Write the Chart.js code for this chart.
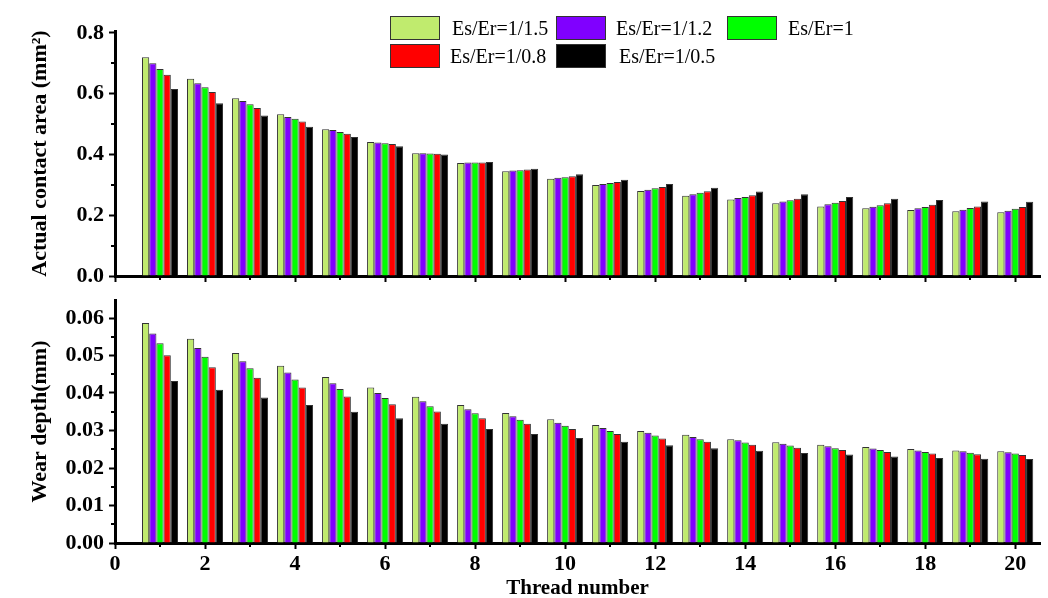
<html>

<head>
    <title>Thread wear</title>
    <script src="https://cdn.jsdelivr.net/npm/chart.js"></script>
    <style>
        body {
            margin: 0;
            background: #fff;
        }

        .wrap {
            position: relative;
            width: 1048px;
            height: 598px;
            overflow: hidden;
        }

        #areaChart {
            position: absolute;
            left: 0;
            top: 0;
        }

        #wearChart {
            position: absolute;
            left: 0;
            top: 290px;
        }
    </style>
</head>

<body>
    <div class="wrap">
        <canvas id="areaChart" width="1048" height="290"></canvas>
        <canvas id="wearChart" width="1048" height="308"></canvas>
    </div>
</body>
<script>
    const threads = [1, 2, 3, 4, 5, 6, 7, 8, 9, 10, 11, 12, 13, 14, 15, 16, 17, 18, 19, 20]
    const seriesNames = ['Es/Er=1/1.5', 'Es/Er=1/1.2', 'Es/Er=1', 'Es/Er=1/0.8', 'Es/Er=1/0.5']
    const seriesColors = ['#c0eb6e', '#8000ff', '#00ff00', '#ff0000', '#000000']

    // actual contact area (mm2)
    const area15 = [0.720, 0.649, 0.585, 0.532, 0.483, 0.441, 0.404, 0.372, 0.345, 0.320, 0.299, 0.280, 0.264, 0.252, 0.239, 0.229, 0.223, 0.217, 0.213, 0.210]
    const area12 = [0.700, 0.634, 0.576, 0.523, 0.480, 0.439, 0.404, 0.373, 0.347, 0.323, 0.303, 0.284, 0.269, 0.257, 0.245, 0.236, 0.228, 0.223, 0.218, 0.215]
    const area10 = [0.681, 0.621, 0.565, 0.517, 0.474, 0.437, 0.403, 0.373, 0.348, 0.325, 0.306, 0.289, 0.274, 0.260, 0.249, 0.241, 0.233, 0.227, 0.224, 0.221]
    const area08 = [0.662, 0.605, 0.553, 0.508, 0.468, 0.434, 0.402, 0.373, 0.350, 0.328, 0.309, 0.293, 0.279, 0.266, 0.254, 0.247, 0.239, 0.234, 0.229, 0.227]
    const area05 = [0.615, 0.568, 0.528, 0.491, 0.457, 0.427, 0.400, 0.375, 0.353, 0.335, 0.317, 0.303, 0.290, 0.278, 0.269, 0.260, 0.254, 0.250, 0.245, 0.244]

    // wear depth (mm)
    const wear15 = [0.0587, 0.0545, 0.0507, 0.0473, 0.0443, 0.0415, 0.0390, 0.0368, 0.0347, 0.0330, 0.0315, 0.0299, 0.0289, 0.0277, 0.0269, 0.0262, 0.0256, 0.0251, 0.0247, 0.0245]
    const wear12 = [0.0559, 0.0520, 0.0485, 0.0455, 0.0426, 0.0400, 0.0378, 0.0357, 0.0338, 0.0321, 0.0307, 0.0294, 0.0283, 0.0274, 0.0265, 0.0258, 0.0252, 0.0247, 0.0245, 0.0242]
    const wear10 = [0.0533, 0.0497, 0.0466, 0.0436, 0.0411, 0.0387, 0.0365, 0.0346, 0.0329, 0.0313, 0.0299, 0.0287, 0.0277, 0.0268, 0.0260, 0.0253, 0.0248, 0.0243, 0.0241, 0.0239]
    const wear08 = [0.0501, 0.0469, 0.0441, 0.0415, 0.0391, 0.0370, 0.0351, 0.0333, 0.0318, 0.0304, 0.0291, 0.0279, 0.0270, 0.0262, 0.0254, 0.0248, 0.0243, 0.0239, 0.0237, 0.0235]
    const wear05 = [0.0432, 0.0409, 0.0388, 0.0368, 0.0350, 0.0333, 0.0318, 0.0304, 0.0291, 0.0280, 0.0270, 0.0261, 0.0253, 0.0246, 0.0240, 0.0236, 0.0231, 0.0227, 0.0225, 0.0224]

    const serif = '"Liberation Serif", "Times New Roman", serif'
    const tickFont = { family: serif, size: 22, weight: 'bold' }

    const makeDatasets = (lists) => lists.map((values, i) => ({
        label: seriesNames[i],
        data: values.map((v, j) => ({ x: threads[j], y: v })),
        backgroundColor: seriesColors[i],
        borderColor: '#333',
        borderWidth: 1,
        barPercentage: 1.0,
        categoryPercentage: 0.8
    }))

    // every other tick is a minor one (shorter mark, no label)
    const isMinor = (scale, v) => Math.round(v / scale.options.ticks.stepSize) % 2 !== 0

    // legend in two rows, like the original figure
    const legendSpots = [
        { x: 390, y: 16, tx: 452 },
        { x: 556, y: 16, tx: 616 },
        { x: 727, y: 16, tx: 788 },
        { x: 390, y: 44, tx: 450 },
        { x: 556, y: 44, tx: 619 }
    ]

    const boxLegend = {
        id: 'boxLegend',
        afterDraw(chart) {
            const ctx = chart.ctx
            ctx.save()
            ctx.font = '20px ' + serif
            ctx.textBaseline = 'middle'
            chart.data.datasets.forEach((ds, i) => {
                const s = legendSpots[i]
                ctx.fillStyle = ds.backgroundColor
                ctx.fillRect(s.x, s.y, 50, 24)
                ctx.strokeStyle = '#333'
                ctx.lineWidth = 1
                ctx.strokeRect(s.x + 0.5, s.y + 0.5, 49, 23)
                ctx.fillStyle = '#000'
                ctx.fillText(ds.label, s.tx, s.y + 14)
            })
            ctx.restore()
        }
    }

    // short marks for the minor ticks
    const minorTicks = {
        id: 'minorTicks',
        afterDraw(chart) {
            const ctx = chart.ctx
            const area = chart.chartArea
            ctx.save()
            ctx.strokeStyle = '#000'
            ctx.lineWidth = 2
            const xs = chart.scales.x
            xs.ticks.forEach(t => {
                if (!isMinor(xs, t.value)) return
                const px = Math.round(xs.getPixelForValue(t.value))
                ctx.beginPath()
                ctx.moveTo(px, area.bottom)
                ctx.lineTo(px, area.bottom + 4)
                ctx.stroke()
            })
            const ys = chart.scales.y
            ys.ticks.forEach(t => {
                if (!isMinor(ys, t.value)) return
                const py = Math.round(ys.getPixelForValue(t.value))
                ctx.beginPath()
                ctx.moveTo(area.left, py)
                ctx.lineTo(area.left - 4, py)
                ctx.stroke()
            })
            ctx.restore()
        }
    }

    const majorColor = (c) => isMinor(c.scale, c.tick.value) ? 'rgba(0,0,0,0)' : '#000'

    const xScale = (showLabels, height) => ({
        type: 'linear',
        min: 0,
        max: 20.55,
        offset: false,
        grid: {
            offset: false,
            drawOnChartArea: false,
            drawTicks: true,
            tickLength: 6,
            tickWidth: 2,
            tickColor: majorColor
        },
        border: { display: true, color: '#000', width: 3 },
        ticks: {
            stepSize: 1,
            includeBounds: false,
            autoSkip: false,
            maxRotation: 0,
            padding: 2,
            color: '#000',
            font: tickFont,
            callback: (v) => (showLabels && Math.round(v) % 2 === 0) ? String(Math.round(v)) : ''
        },
        title: {
            display: showLabels,
            text: 'Thread number',
            color: '#000',
            font: { family: serif, size: 21, weight: 'bold', lineHeight: 0.85 },
            padding: { top: 0, bottom: 0 }
        },
        afterFit: (s) => {
            s.height = height
            s.paddingLeft = 0
            s.paddingRight = 0
        }
    })

    const yScale = (max, step, digits, title) => ({
        min: 0,
        max: max,
        grid: {
            drawOnChartArea: false,
            drawTicks: true,
            tickLength: 6,
            tickWidth: 2,
            tickColor: majorColor
        },
        border: { display: true, color: '#000', width: 3 },
        ticks: {
            stepSize: step,
            includeBounds: false,
            autoSkip: false,
            padding: 5,
            color: '#000',
            font: tickFont,
            callback: (v) => Math.round(v / step) % 2 === 0 ? v.toFixed(digits) : ''
        },
        title: {
            display: true,
            text: title,
            color: '#000',
            font: { family: serif, size: 22, weight: 'bold', lineHeight: 1.0 },
            padding: { top: 29, bottom: 0 }
        },
        afterFit: (s) => {
            // keep plot edges where the layout padding puts them
            s.width = 115
            s.paddingTop = 0
            s.paddingBottom = 0
        }
    })

    const areaChart = new Chart(document.getElementById('areaChart').getContext('2d'), {
        type: 'bar',
        data: { datasets: makeDatasets([area15, area12, area10, area08, area05]) },
        options: {
            responsive: false,
            animation: false,
            layout: { padding: { top: 31, right: 8, left: 0, bottom: 0 } },
            plugins: { legend: { display: false }, tooltip: { enabled: false } },
            scales: {
                x: xScale(false, 14),
                y: yScale(0.806, 0.1, 1, 'Actual contact area (mm²)')
            }
        },
        plugins: [boxLegend, minorTicks]
    })

    const wearChart = new Chart(document.getElementById('wearChart').getContext('2d'), {
        type: 'bar',
        data: { datasets: makeDatasets([wear15, wear12, wear10, wear08, wear05]) },
        options: {
            responsive: false,
            animation: false,
            layout: { padding: { top: 10, right: 8, left: 0, bottom: 0 } },
            plugins: { legend: { display: false }, tooltip: { enabled: false } },
            scales: {
                x: xScale(true, 55),
                y: yScale(0.0648, 0.005, 2, 'Wear depth(mm)')
            }
        },
        plugins: [minorTicks]
    })
</script>
</html>
